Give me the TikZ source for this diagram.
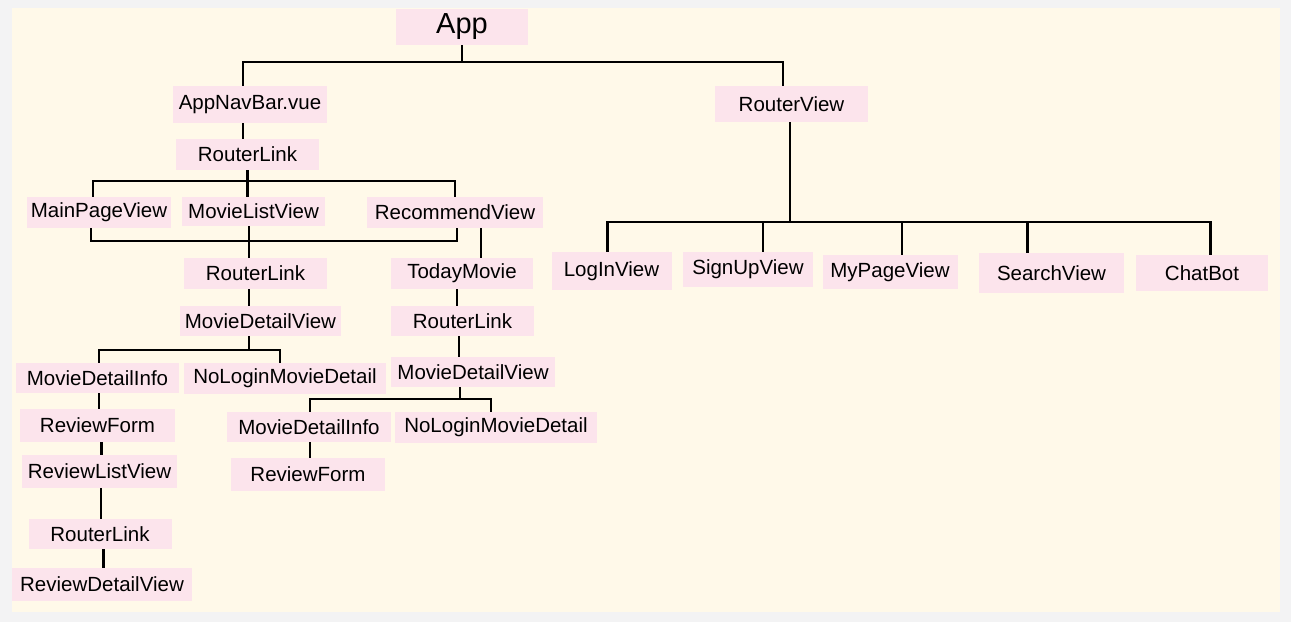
\documentclass[tikz,border=0pt]{standalone}
\usepackage{fontspec}
\setmainfont{Liberation Sans}
\definecolor{pagegray}{HTML}{F3F3F4}
\definecolor{cream}{HTML}{FFF9E9}
\definecolor{boxpink}{HTML}{FCE4EC}
\tikzset{
  comp/.style={fill=boxpink, inner sep=0pt, font=\fontsize{20.5}{24}\selectfont},
  wire/.style={line width=2.4pt, black},
}
\begin{document}
\begin{tikzpicture}[x=1pt, y=-1pt]
      \useasboundingbox (0,0) rectangle (1291,622);
      \fill[pagegray] (0,0) rectangle (1291,622);
      \fill[cream] (12,8) rectangle (1280,612);
      % root and first level
      \node[comp, minimum width=132, minimum height=36, font=\fontsize{29}{34}\selectfont] (app) at (462,27) {App};
      \node[comp, minimum width=154, minimum height=37] (nav) at (250,104.5) {AppNavBar.vue};
      \node[comp, minimum width=153, minimum height=36] (router) at (791.5,104) {RouterView};
      % navbar branch
      \node[comp, minimum width=143, minimum height=31] (link1) at (247.5,154.5) {RouterLink};
      \node[comp, minimum width=143.5, minimum height=31] (mainpage) at (99,212.5) {MainPageView};
      \node[comp, minimum width=143, minimum height=29] (movielist) at (253.5,211.5) {MovieListView};
      \node[comp, minimum width=175.5, minimum height=31] (recommend) at (455,212.5) {RecommendView};
      \node[comp, minimum width=143, minimum height=31] (link2) at (255.5,273.5) {RouterLink};
      \node[comp, minimum width=142.5, minimum height=31] (today) at (462,273.5) {TodayMovie};
      \node[comp, minimum width=161, minimum height=30] (detail1) at (260.5,321) {MovieDetailView};
      \node[comp, minimum width=143, minimum height=30] (link3) at (462.5,321) {RouterLink};
      \node[comp, minimum width=163, minimum height=30] (info1) at (97.5,378) {MovieDetailInfo};
      \node[comp, minimum width=202, minimum height=31] (nologin1) at (285,378.5) {NoLoginMovieDetail};
      \node[comp, minimum width=163.5, minimum height=30] (detail2) at (473,372) {MovieDetailView};
      \node[comp, minimum width=164, minimum height=30] (info2) at (309,427) {MovieDetailInfo};
      \node[comp, minimum width=202.5, minimum height=31] (nologin2) at (496,427.5) {NoLoginMovieDetail};
      \node[comp, minimum width=154.5, minimum height=33] (form2) at (308,474.5) {ReviewForm};
      \node[comp, minimum width=155, minimum height=33] (form1) at (97.5,425.5) {ReviewForm};
      \node[comp, minimum width=155, minimum height=33] (reviewlist) at (99.5,471.5) {ReviewListView};
      \node[comp, minimum width=143, minimum height=30] (link4) at (100,534) {RouterLink};
      \node[comp, minimum width=180, minimum height=33] (reviewdetail) at (102,584.5) {ReviewDetailView};
      % router view branch
      \node[comp, minimum width=120, minimum height=38] (login) at (611.5,271) {LogInView};
      \node[comp, minimum width=130.5, minimum height=35] (signup) at (748,269.5) {SignUpView};
      \node[comp, minimum width=135, minimum height=34] (mypage) at (890,272) {MyPageView};
      \node[comp, minimum width=145, minimum height=40] (search) at (1051.5,273) {SearchView};
      \node[comp, minimum width=132, minimum height=36] (chatbot) at (1202,273) {ChatBot};
      % connectors
      \draw[wire] (app.south) -- ++(0,17) coordinate (appfork);
      \draw[wire] ([xshift=-7pt]nav.north) |- (appfork) -| ([xshift=-8.5pt]router.north);
      \draw[wire] ([xshift=-7pt]nav.south) -- ([xshift=-7pt]nav.south |- link1.north);
      \draw[wire] (link1.south) -- ++(0,11) coordinate (linkfork);
      \draw[wire] ([xshift=-6pt]mainpage.north) |- (linkfork) -| (recommend.north);
      \draw[wire] (linkfork) -- (linkfork |- movielist.north);
      \draw[wire] ([xshift=-8pt]mainpage.south) -- ++(0,13) -| ([xshift=2pt]recommend.south);
      \draw[wire] ([xshift=-4.5pt]movielist.south) -- ([xshift=-4.5pt]movielist.south |- link2.north);
      \draw[wire] ([xshift=26pt]recommend.south) -- ([xshift=26pt]recommend.south |- today.north);
      \draw[wire] ([xshift=-6.5pt]link2.south) -- ([xshift=-6.5pt]link2.south |- detail1.north);
      \draw[wire] ([xshift=-11.5pt]detail1.south) -- ++(0,14) coordinate (detailfork);
      \draw[wire] ([xshift=1.5pt]info1.north) |- (detailfork) -| ([xshift=-5pt]nologin1.north);
      \draw[wire] ([xshift=1.5pt]info1.south) -- ([xshift=1.5pt]info1.south |- form1.north);
      \draw[wire] ([xshift=4pt]form1.south) -- ([xshift=4pt]form1.south |- reviewlist.north);
      \draw[wire] ([xshift=1.5pt]reviewlist.south) -- ([xshift=1.5pt]reviewlist.south |- link4.north);
      \draw[wire] ([xshift=3.5pt]link4.south) -- ([xshift=3.5pt]link4.south |- reviewdetail.north);
      \draw[wire] ([xshift=-5pt]today.south) -- ([xshift=-5pt]today.south |- link3.north);
      \draw[wire] ([xshift=-3.5pt]link3.south) -- ([xshift=-3.5pt]link3.south |- detail2.north);
      \draw[wire] ([xshift=-13pt]detail2.south) -- ++(0,12) coordinate (detailforkb);
      \draw[wire] ([xshift=1pt]info2.north) |- (detailforkb) -| ([xshift=-5pt]nologin2.north);
      \draw[wire] ([xshift=1pt]info2.south) -- ([xshift=1pt]info2.south |- form2.north);
      \draw[wire] ([xshift=-1.5pt]router.south) -- ++(0,100) coordinate (routerfork);
      \draw[wire] ([xshift=-4pt]login.north) |- (routerfork) -| ([xshift=8.5pt]chatbot.north);
      \draw[wire] ([xshift=15pt]signup.north) -- ([xshift=15pt]signup.north |- routerfork);
      \draw[wire] ([xshift=12pt]mypage.north) -- ([xshift=12pt]mypage.north |- routerfork);
      \draw[wire] ([xshift=-24pt]search.north) -- ([xshift=-24pt]search.north |- routerfork);
    \end{tikzpicture}
\end{document}
